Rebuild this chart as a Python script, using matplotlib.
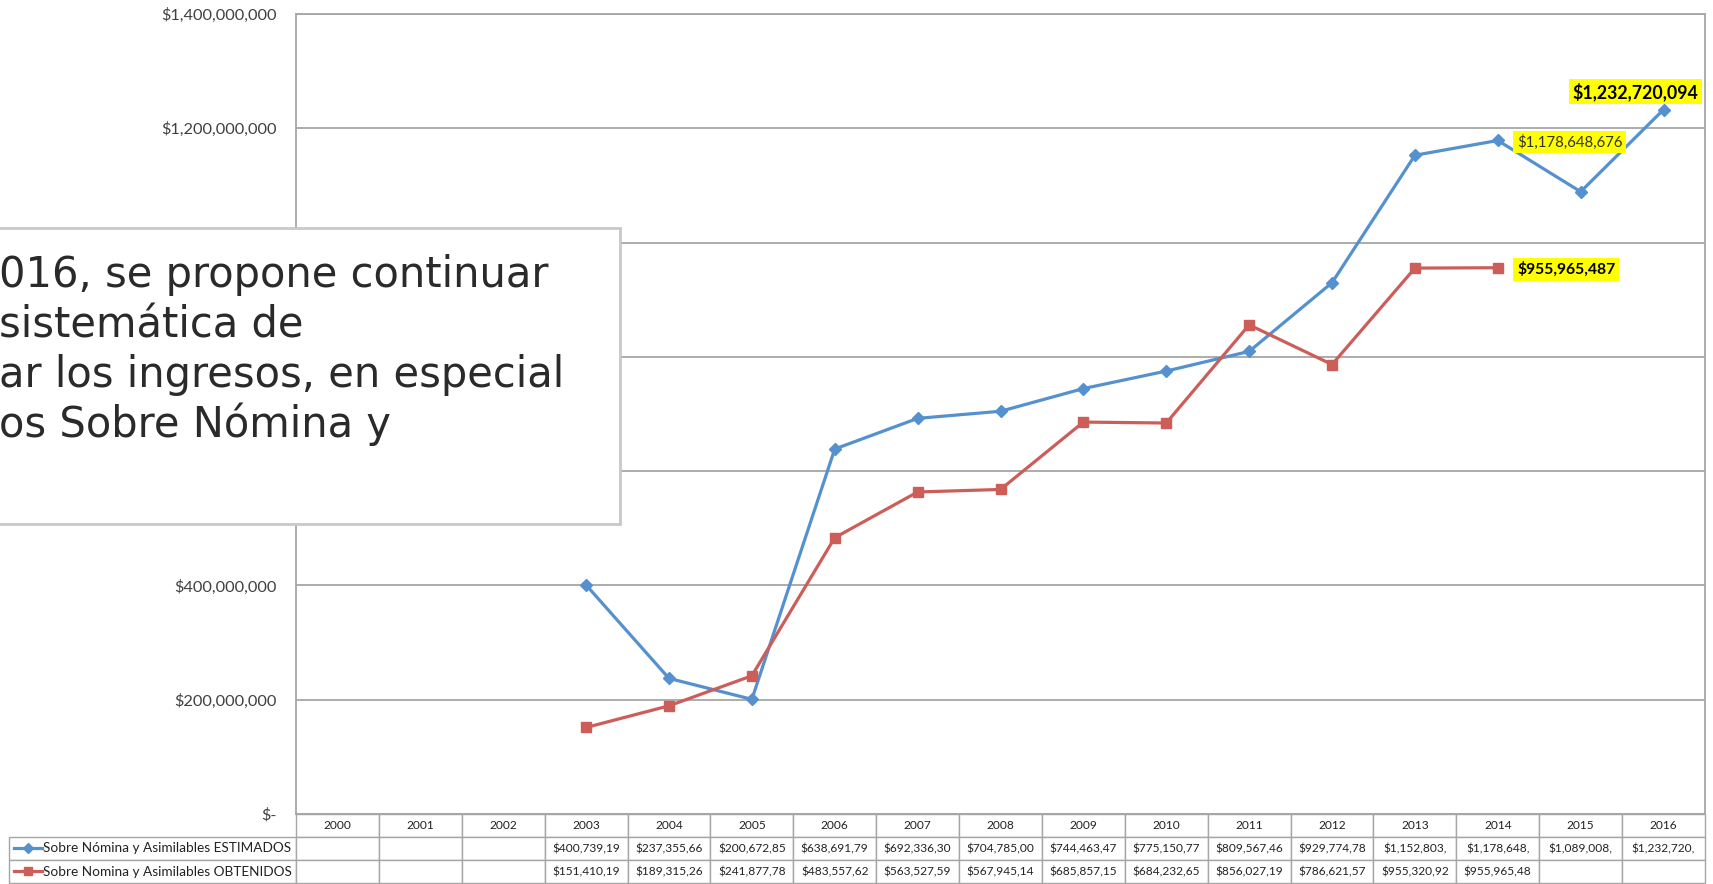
import matplotlib
matplotlib.use("Agg")
import matplotlib.pyplot as plt
from matplotlib.patches import Rectangle
from matplotlib.lines import Line2D
from matplotlib.ticker import FuncFormatter, MultipleLocator

# Datos
years = [str(y) for y in range(2000, 2017)]
est_years = list(range(2003, 2017))
estimados = [400739190, 237355660, 200672850, 638691790, 692336300, 704785000,
             744463470, 775150770, 809567460, 929774780, 1152803000, 1178648676,
             1089008000, 1232720094]
obt_years = list(range(2003, 2015))
obtenidos = [151410190, 189315260, 241877780, 483557620, 563527590, 567945140,
             685857150, 684232650, 856027190, 786621570, 955320920, 955965487]
label_est = "Sobre Nómina y Asimilables ESTIMADOS"
label_obt = "Sobre Nomina y Asimilables OBTENIDOS"
box_lines = ["016, se propone continuar", "sistemática de",
             "ar los ingresos, en especial", "os Sobre Nómina y"]

BLUE = "#5590cf"
RED = "#cd5d58"
GRID = "#a6a6a6"
FONT = ["Lato", "DejaVu Sans"]

W, H = 1713, 884
fig = plt.figure(figsize=(W / 100, H / 100), dpi=100)
ax = fig.add_axes([296 / W, 1 - 814 / H, 1409 / W, 800 / H])

x_est = [y - 2000 for y in est_years]
x_obt = [y - 2000 for y in obt_years]
ax.plot(x_est, estimados, color=BLUE, lw=2.3, marker="D", ms=6.5, zorder=3)
ax.plot(x_obt, obtenidos, color=RED, lw=2.3, marker="s", ms=7.5, zorder=3)

ax.set_xlim(-0.5, len(years) - 0.5)
ax.set_ylim(0, 1.4e9)
ax.yaxis.set_major_locator(MultipleLocator(2e8))
ax.yaxis.set_major_formatter(FuncFormatter(lambda v, p: "$-" if v == 0 else f"${v:,.0f}"))
ax.set_xticks([])
ax.tick_params(axis="y", length=0, pad=14, labelsize=11.8, labelcolor="#404040")
for lab in ax.get_yticklabels():
    lab.set_fontfamily(FONT)
ax.grid(axis="y", color=GRID, lw=1.3)
ax.set_axisbelow(True)
for s in ax.spines.values():
    s.set_color(GRID)
    s.set_linewidth(1.3)

# etiquetas resaltadas
ax.annotate(f"${estimados[-1]:,.0f}", (x_est[-1], estimados[-1]), xytext=(-20, 13),
            textcoords="offset points", ha="center", va="center", fontsize=12.8,
            fontweight="bold", family=FONT,
            bbox=dict(boxstyle="square,pad=0.2", fc="#ffff00", ec="none"))
i14 = est_years.index(2014)
ax.annotate(f"${estimados[i14]:,.0f}", (x_est[i14], estimados[i14]), xytext=(14, -1),
            textcoords="offset points", ha="left", va="center", fontsize=10.8,
            family=FONT, color="#333333",
            bbox=dict(boxstyle="square,pad=0.25", fc="#ffff00", ec="none"))
ax.annotate(f"${obtenidos[-1]:,.0f}", (x_obt[-1], obtenidos[-1]), xytext=(14, -1),
            textcoords="offset points", ha="left", va="center", fontsize=11.3,
            fontweight="bold", family=FONT,
            bbox=dict(boxstyle="square,pad=0.25", fc="#ffff00", ec="none"))

# tabla de datos
def cell_txt(v):
    return f"${v:,.0f}"[:11]

row_est = [""] * len(years)
for y, v in zip(est_years, estimados):
    row_est[y - 2000] = cell_txt(v)
row_obt = [""] * len(years)
for y, v in zip(obt_years, obtenidos):
    row_obt[y - 2000] = cell_txt(v)

cells = [[""] + years, [label_est] + row_est, [label_obt] + row_obt]
first_w = 287 / 1409
tbl = ax.table(cellText=cells, cellLoc="center",
               colWidths=[287] + [1409 / 17] * 17,
               bbox=[-first_w, -69 / 800, 1 + first_w, 69 / 800])
tbl.auto_set_font_size(False)
tbl.set_fontsize(8.6)
for (r, c), cell in tbl.get_celld().items():
    cell.set_edgecolor(GRID)
    cell.set_linewidth(1.0)
    cell.get_text().set_fontfamily(FONT)
    cell.get_text().set_color("#222222")
    if c == 0:
        cell.get_text().set_horizontalalignment("left")
        cell.PAD = 0.12
        cell.get_text().set_fontsize(9.8)
tbl[0, 0].visible_edges = ""

# claves de la leyenda dentro de la tabla
for yc, col, mk, ms in [(848, BLUE, "D", 5), (871, RED, "s", 6)]:
    fig.add_artist(Line2D([14 / W, 28 / W, 42 / W], [1 - yc / H] * 3, color=col,
                          lw=2.3, marker=mk, ms=ms, markevery=[1]))

# recuadro de texto superpuesto
fig.add_artist(Rectangle((-2 / W, 1 - 524 / H), 622 / W, 296 / H, transform=fig.transFigure,
                         fc="white", ec="#c8c8c8", lw=2, zorder=10))
for i, line in enumerate(box_lines):
    fig.text(-1 / W, 1 - (287 + i * 50) / H, line, fontsize=30, family=["DejaVu Sans"],
             fontweight="normal", color="#2a2a2a", va="baseline", ha="left", zorder=11)

fig.savefig("out.png", dpi=100)
